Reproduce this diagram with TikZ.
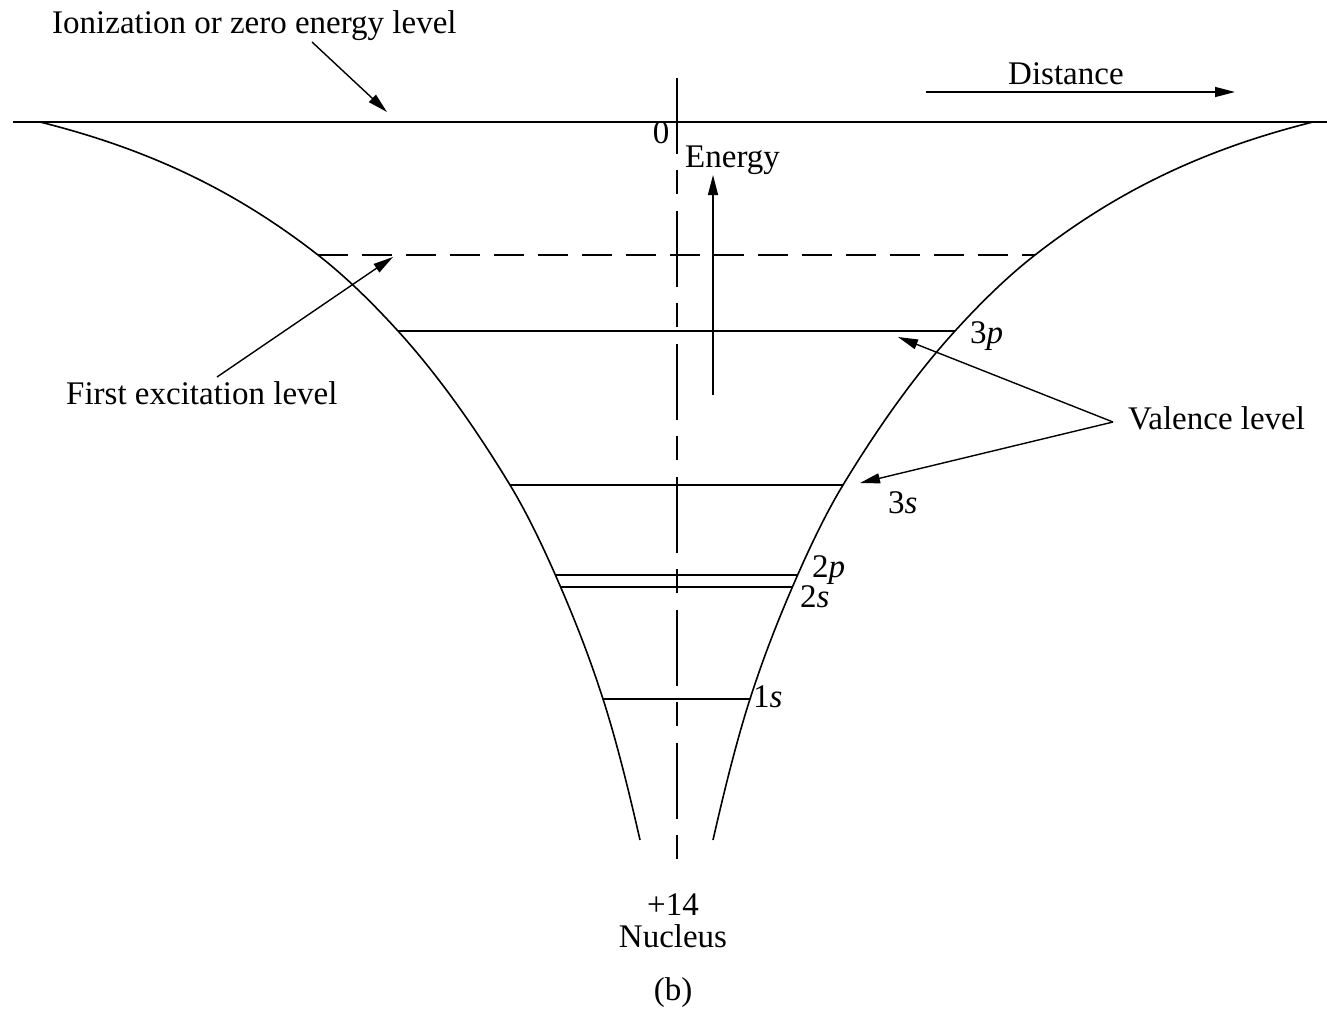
\documentclass[tikz,border=0pt]{standalone}
\usepackage{fontspec}
\setmainfont{Liberation Serif}
\usetikzlibrary{arrows.meta}
\begin{document}
\begin{tikzpicture}[x=1pt,y=-1pt,
  every node/.style={inner sep=0pt, font=\fontsize{33}{38}\selectfont},
  curve/.style={line width=1.6pt},
  lvl/.style={line width=1.6pt},
  pointer/.style={line width=1.4pt, -{Triangle[length=20pt,width=10pt]}},
]
\useasboundingbox (0,0) rectangle (1327,1017);
% zero level
\coordinate (zl) at (13,122);
\coordinate (zr) at (1327,122);
\draw[lvl] (zl) -- (zr);
% axis
\coordinate (axT) at (677,78);
\coordinate (axB) at (677,865);
\draw[line width=1.6pt, dash pattern=on 76pt off 16pt on 24pt off 17pt] (axT) -- (axB);
% well curves
\draw[curve] (40,122) .. controls (93.33,135.33) and (146.67,153.33) .. (200,180)
  .. controls (239.33,199.67) and (278.67,224.32) .. (318,255)
  .. controls (344.67,275.8) and (371.33,301.67) .. (398,331)
  .. controls (435.33,372.07) and (472.67,423.4) .. (510,485)
  .. controls (526,511.4) and (542,544.2) .. (558,581)
  .. controls (573,615.5) and (588,652.5) .. (603,699)
  .. controls (615.33,737.23) and (627.67,785.73) .. (640,840);
\draw[curve] (1313,122) .. controls (1259.67,135.33) and (1206.33,153.33) .. (1153,180)
  .. controls (1113.67,199.67) and (1074.33,224.32) .. (1035,255)
  .. controls (1008.33,275.8) and (981.67,301.67) .. (955,331)
  .. controls (917.67,372.07) and (880.33,423.4) .. (843,485)
  .. controls (827,511.4) and (811,544.2) .. (795,581)
  .. controls (780,615.5) and (765,652.5) .. (750,699)
  .. controls (737.67,737.23) and (725.33,785.73) .. (713,840);
% levels clipped inside the well
\begin{scope}
\clip (40,122) .. controls (93.33,135.33) and (146.67,153.33) .. (200,180)
  .. controls (239.33,199.67) and (278.67,224.32) .. (318,255)
  .. controls (344.67,275.8) and (371.33,301.67) .. (398,331)
  .. controls (435.33,372.07) and (472.67,423.4) .. (510,485)
  .. controls (526,511.4) and (542,544.2) .. (558,581)
  .. controls (573,615.5) and (588,652.5) .. (603,699)
  .. controls (615.33,737.23) and (627.67,785.73) .. (640,840)
  -- (1327,840) -- (1327,122) -- cycle;
\clip (1313,122) .. controls (1259.67,135.33) and (1206.33,153.33) .. (1153,180)
  .. controls (1113.67,199.67) and (1074.33,224.32) .. (1035,255)
  .. controls (1008.33,275.8) and (981.67,301.67) .. (955,331)
  .. controls (917.67,372.07) and (880.33,423.4) .. (843,485)
  .. controls (827,511.4) and (811,544.2) .. (795,581)
  .. controls (780,615.5) and (765,652.5) .. (750,699)
  .. controls (737.67,737.23) and (725.33,785.73) .. (713,840)
  -- (0,840) -- (0,122) -- cycle;
\draw[lvl, dash pattern=on 30pt off 14pt] (318,255) -- (1040,255);
\draw[lvl] (380,331) -- (980,331);
\draw[lvl] (490,485) -- (870,485);
\draw[lvl] (540,575) -- (820,575);
\draw[lvl] (540,587) -- (820,587);
\draw[lvl] (590,699) -- (770,699);
\end{scope}
% labels
\node[anchor=base west] (ion) at (52,33) {Ionization or zero energy level};
\node[anchor=base west] (dist) at (1008,84) {Distance};
\node[anchor=base] (zero) at (661,143) {0};
\node[anchor=base west] (energy) at (685,167) {Energy};
\node[anchor=base west] (first) at (66,404) {First excitation level};
\node[anchor=base west] (val) at (1128,429) {Valence level};
\node[anchor=base west] (l3p) at (970,343) {3\textit{p}};
\node[anchor=base west] (l3s) at (888,513) {3\textit{s}};
\node[anchor=base west] (l2p) at (812,577) {2\textit{p}};
\node[anchor=base west] (l2s) at (800,607) {2\textit{s}};
\node[anchor=base west] (l1s) at (753,707) {1\textit{s}};
\node[anchor=base] (plus) at (673,915) {+14};
\node[anchor=base] (nuc) at (673,947) {Nucleus};
\node[anchor=base] (cap) at (673,1000) {(b)};
% arrows
\coordinate (ionT) at (312,42);
\coordinate (ionH) at (387,112);
\draw[pointer] (ionT) -- (ionH);
\coordinate (dT) at (926,92);
\coordinate (dH) at (1235,92);
\draw[pointer] (dT) -- (dH);
\coordinate (eT) at (713,395);
\coordinate (eH) at (713,175);
\draw[pointer] (eT) -- (eH);
\coordinate (fT) at (217,377);
\coordinate (fH) at (393,257);
\draw[pointer] (fT) -- (fH);
\coordinate (vT) at (1113,422);
\coordinate (vH1) at (898,337);
\coordinate (vH2) at (860,483);
\draw[pointer] (vT) -- (vH1);
\draw[pointer] (vT) -- (vH2);
\end{tikzpicture}
\end{document}
